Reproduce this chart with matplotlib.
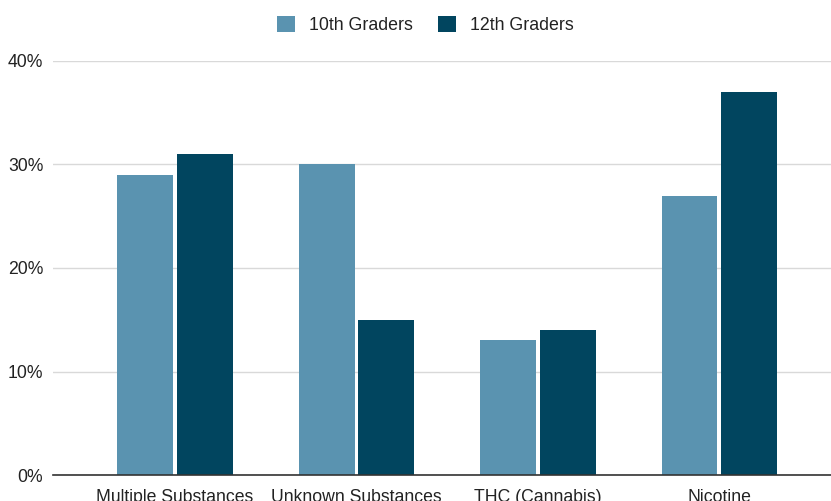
import matplotlib
matplotlib.use('Agg')
import matplotlib.pyplot as plt
from matplotlib.ticker import FuncFormatter
import numpy as np

categories = ['Multiple Substances', 'Unknown Substances', 'THC (Cannabis)', 'Nicotine']
grade10 = [29, 30, 13, 27]
grade12 = [31, 15, 14, 37]
series_names = ['10th Graders', '12th Graders']
colors = ['#5a93b0', '#01455f']

plt.rcParams['font.family'] = ['Liberation Sans', 'DejaVu Sans']

fig = plt.figure(figsize=(8.31, 5.01), dpi=100)
ax = fig.add_axes([53 / 831, 26 / 501, 778 / 831, 414 / 501])

x = np.arange(len(categories))
width = 0.307
off = 0.164
ax.bar(x - off, grade10, width, color=colors[0], label=series_names[0], zorder=3)
ax.bar(x + off, grade12, width, color=colors[1], label=series_names[1], zorder=3)

ax.set_xlim(-0.672, 3.615)
ax.set_ylim(0, 40)
ax.set_yticks([0, 10, 20, 30, 40])
ax.yaxis.set_major_formatter(FuncFormatter(lambda v, p: '%d%%' % v))
ax.set_xticks(x)
ax.set_xticklabels(categories)

ax.grid(axis='y', color='#d9d9d9', linewidth=1, zorder=0)
for s in ['top', 'right', 'left']:
    ax.spines[s].set_visible(False)
ax.spines['bottom'].set_color('#333333')
ax.spines['bottom'].set_linewidth(1.2)
ax.spines['bottom'].set_zorder(4)

ax.tick_params(axis='both', length=0, labelsize=12.7, colors='#222222')
ax.tick_params(axis='y', pad=7)
ax.tick_params(axis='x', pad=10)

leg = fig.legend(loc='upper center', bbox_to_anchor=(0.512, 1.0), ncol=2, frameon=False,
                 fontsize=12.8, handlelength=1.0, handleheight=1.0, handletextpad=0.8,
                 columnspacing=1.4)
for t in leg.get_texts():
    t.set_color('#222222')

fig.savefig('out.png', dpi=100)
